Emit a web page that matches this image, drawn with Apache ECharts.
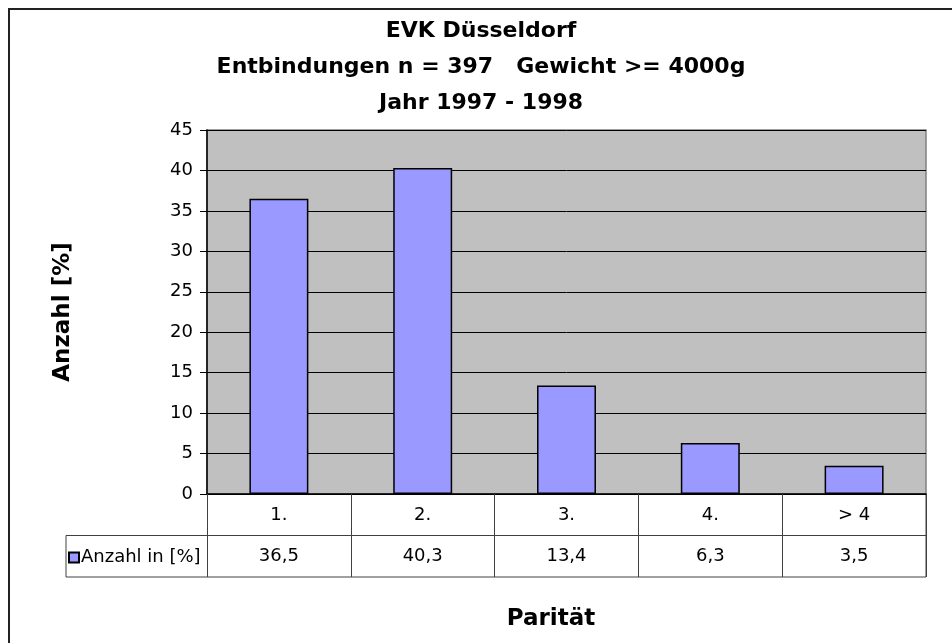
<!DOCTYPE html>
<html>
<head>
<meta charset="utf-8">
<script src="https://cdn.jsdelivr.net/npm/echarts@6/dist/echarts.min.js"></script>
<style>
  html, body { margin: 0; padding: 0; background: #fff; }
  #chart { width: 952px; height: 643px; }
</style>
</head>
<body>
<div id="chart"></div>
<script>
// Daten aus der Vorlage
const categories = ['1.', '2.', '3.', '4.', '> 4'];
const anzahl = [36.5, 40.3, 13.4, 6.3, 3.5];
const seriesName = 'Anzahl in [%]';
const titleLines = ['EVK Düsseldorf', 'Entbindungen n = 397   Gewicht >= 4000g', 'Jahr 1997 - 1998'];

const FONT = '"DejaVu Sans", "Liberation Sans", sans-serif';
// Plotbereich
const G = { left: 207, top: 130, right: 926, bottom: 494 };
const rowH = 41.5;
const tableLeft = 66;

const chart = echarts.init(document.getElementById('chart'));

const lineStyleTable = { stroke: '#404040', lineWidth: 1 };

const option = {
  backgroundColor: '#fff',
  animation: false,
  textStyle: { fontFamily: FONT },
  title: [
    {
      text: titleLines.join('\n'),
      left: 476, top: 8, textAlign: 'center',
      textStyle: { fontFamily: FONT, fontSize: 22, fontWeight: 'bold', color: '#000', lineHeight: 36 }
    },
    {
      text: 'Parität',
      left: 546, top: 603, textAlign: 'center',
      textStyle: { fontFamily: FONT, fontSize: 23, fontWeight: 'bold', color: '#000' }
    }
  ],
  legend: {
    left: tableLeft + 2, top: G.bottom + rowH + 13,
    itemWidth: 10, itemHeight: 10, itemGap: 4,
    icon: 'rect',
    data: [seriesName],
    textStyle: { fontFamily: FONT, fontSize: 18, color: '#000', padding: [0, 0, 0, -3] },
    padding: 0
  },
  grid: {
    left: G.left, top: G.top, right: 952 - G.right, bottom: 643 - G.bottom,
    show: true, backgroundColor: '#c0c0c0', borderColor: '#808080', borderWidth: 1.5,
    containLabel: false
  },
  xAxis: [
    {
      type: 'category',
      data: categories,
      boundaryGap: true,
      axisLine: { lineStyle: { color: '#000', width: 1.5 } },
      axisTick: { show: true, interval: 0, length: rowH * 2, lineStyle: { color: '#404040', width: 1 } },
      axisLabel: { interval: 0, margin: 12, fontSize: 18, color: '#000', fontFamily: FONT },
      splitLine: { show: false }
    },
    {
      type: 'category',
      data: categories,
      position: 'bottom',
      offset: rowH,
      axisLine: { show: false },
      axisTick: { show: false },
      axisLabel: {
        interval: 0, margin: 12, fontSize: 18, color: '#000', fontFamily: FONT,
        formatter: (v, i) => anzahl[i].toFixed(1).replace('.', ',')
      }
    }
  ],
  yAxis: {
    type: 'value',
    min: 0, max: 45, interval: 5,
    name: 'Anzahl [%]',
    nameLocation: 'middle',
    nameGap: 132,
    nameTextStyle: { fontFamily: FONT, fontSize: 23, fontWeight: 'bold', color: '#000' },
    axisLine: { show: true, lineStyle: { color: '#000', width: 1.5 } },
    axisTick: { show: true, length: 7, lineStyle: { color: '#000' } },
    axisLabel: { margin: 14, fontSize: 18, color: '#000', fontFamily: FONT },
    splitLine: { lineStyle: { color: '#000', width: 1 } }
  },
  series: [
    {
      name: seriesName,
      type: 'bar',
      data: anzahl,
      barWidth: '41%',
      itemStyle: { color: '#9999ff', borderColor: '#000', borderWidth: 1.5 }
    }
  ],
  graphic: [
    // Rahmen der Tabelle
    { type: 'line', shape: { x1: tableLeft, y1: G.bottom + rowH, x2: G.right, y2: G.bottom + rowH }, style: lineStyleTable },
    { type: 'line', shape: { x1: tableLeft, y1: G.bottom + rowH * 2, x2: G.right, y2: G.bottom + rowH * 2 }, style: lineStyleTable },
    { type: 'line', shape: { x1: tableLeft, y1: G.bottom + rowH, x2: tableLeft, y2: G.bottom + rowH * 2 }, style: lineStyleTable },
    { type: 'line', shape: { x1: G.right, y1: G.bottom, x2: G.right, y2: G.bottom + rowH * 2 }, style: lineStyleTable },
    // äußerer Rahmen
    { type: 'rect', shape: { x: 9, y: 9, width: 980, height: 680 }, style: { fill: 'none', stroke: '#222', lineWidth: 2 } }
  ]
};

chart.setOption(option);
</script>
</body>
</html>
